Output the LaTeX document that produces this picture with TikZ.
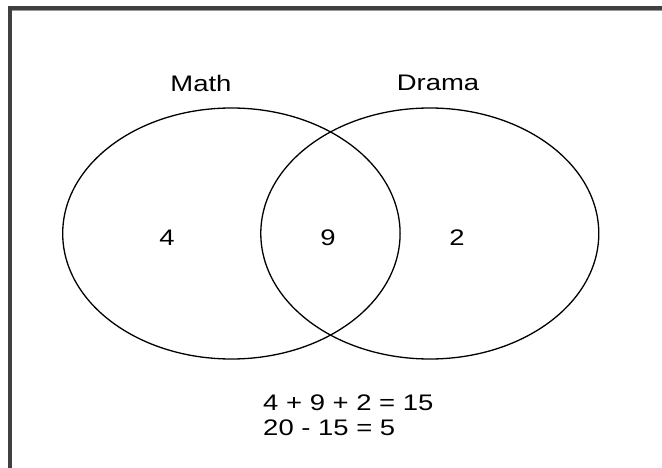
\documentclass[tikz,border=0pt]{standalone}
\usepackage{fontspec}
\setmainfont{Liberation Sans}
\begin{document}
\begin{tikzpicture}[x=1pt,y=-1pt,
  lbl/.style={inner sep=0pt,font=\fontsize{22.5}{25}\selectfont,xscale=1.22},
  venn/.style={draw=black,line width=1.3pt}]
\useasboundingbox (0,0) rectangle (662,468);
\fill[white] (0,0) rectangle (662,468);
% frame
\fill[black!75] (8,6) rectangle (662,10);
\fill[black!40] (12,10) rectangle (662,11);
\fill[black!75] (8,6) rectangle (12,468);
% circles
\draw[venn] (231.4,233.5) ellipse [x radius=168.7, y radius=125.5];
\draw[venn] (429.8,233.5) ellipse [x radius=169, y radius=125.5];
% labels
\node[lbl] (math) at (201,83) {Math};
\node[lbl] (drama) at (438,83) {Drama};
\node[lbl] (a) at (167,238) {4};
\node[lbl] (b) at (328,238) {9};
\node[lbl] (c) at (457,238) {2};
\node[lbl,anchor=west,align=left] (eq) at (263,415.5) {4 + 9 + 2 = 15\\20 - 15 = 5};
\end{tikzpicture}
\end{document}
